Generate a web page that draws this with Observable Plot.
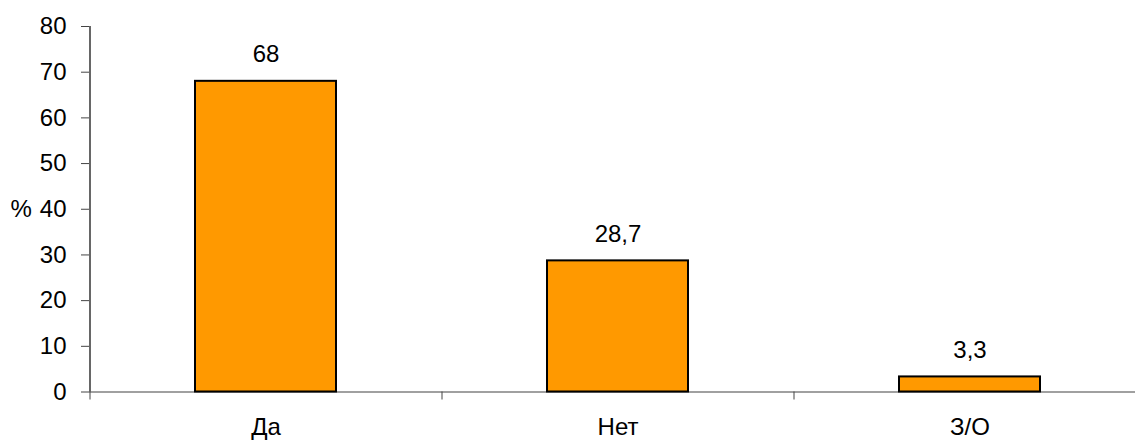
<!DOCTYPE html>
<html>
<head>
<meta charset="utf-8">
<script src="https://cdn.jsdelivr.net/npm/d3@7"></script>
<script src="https://cdn.jsdelivr.net/npm/@observablehq/plot@0.6"></script>
<style>
  html, body { margin: 0; padding: 0; background: #fff; overflow: hidden; }
  #chart svg { display: block; }
</style>
</head>
<body>
<div id="chart"></div>
<script>
const categories = ["Да", "Нет", "З/О"];
const values = [68, 28.7, 3.3];
const valueLabels = ["68", "28,7", "3,3"];
const yTicks = [0, 10, 20, 30, 40, 50, 60, 70, 80];
const yLabel = "%";

const data = categories.map((c, i) => ({cat: c, value: values[i], label: valueLabels[i]}));
const font = "'Liberation Sans', Arial, sans-serif";
const fs = 24;
const half = 176;

const chart = Plot.plot({
  width: 1135,
  height: 441,
  marginLeft: 89,
  marginRight: -10,
  marginTop: 26,
  marginBottom: 49.5,
  style: {fontFamily: font, fontSize: fs + "px", color: "#000", background: "#fff"},
  x: {domain: categories, paddingInner: 0.6, paddingOuter: 0.3},
  y: {domain: [0, 80]},
  marks: [
    Plot.ruleY([0], {stroke: "#808080", strokeWidth: 1.5}),
    Plot.barY(data, {x: "cat", y: "value", fill: "#FF9900", stroke: "#000", strokeWidth: 2}),
    Plot.ruleX([categories[0]], {x: d => d, y1: 0, y2: 80, dx: -half, stroke: "#000", strokeWidth: 1.2}),
    Plot.axisY({ticks: yTicks, tickSize: 8, tickPadding: 15, label: null, stroke: "#444", fontSize: fs, fill: "#000"}),
    Plot.axisX({tickSize: 8, tickFormat: () => "", dx: -half, label: null, stroke: "#444"}),
    Plot.axisX({tickSize: 0, tickPadding: 26, label: null, fontSize: fs, fill: "#000"}),
    Plot.text(data, {x: "cat", y: "value", text: "label", lineAnchor: "bottom", dy: -19, fontSize: fs, fill: "#000"}),
    Plot.text([yLabel], {frameAnchor: "left", dx: -79, textAnchor: "start", fontSize: fs, fill: "#000"})
  ]
});
document.getElementById("chart").appendChild(chart);
</script>
</body>
</html>
